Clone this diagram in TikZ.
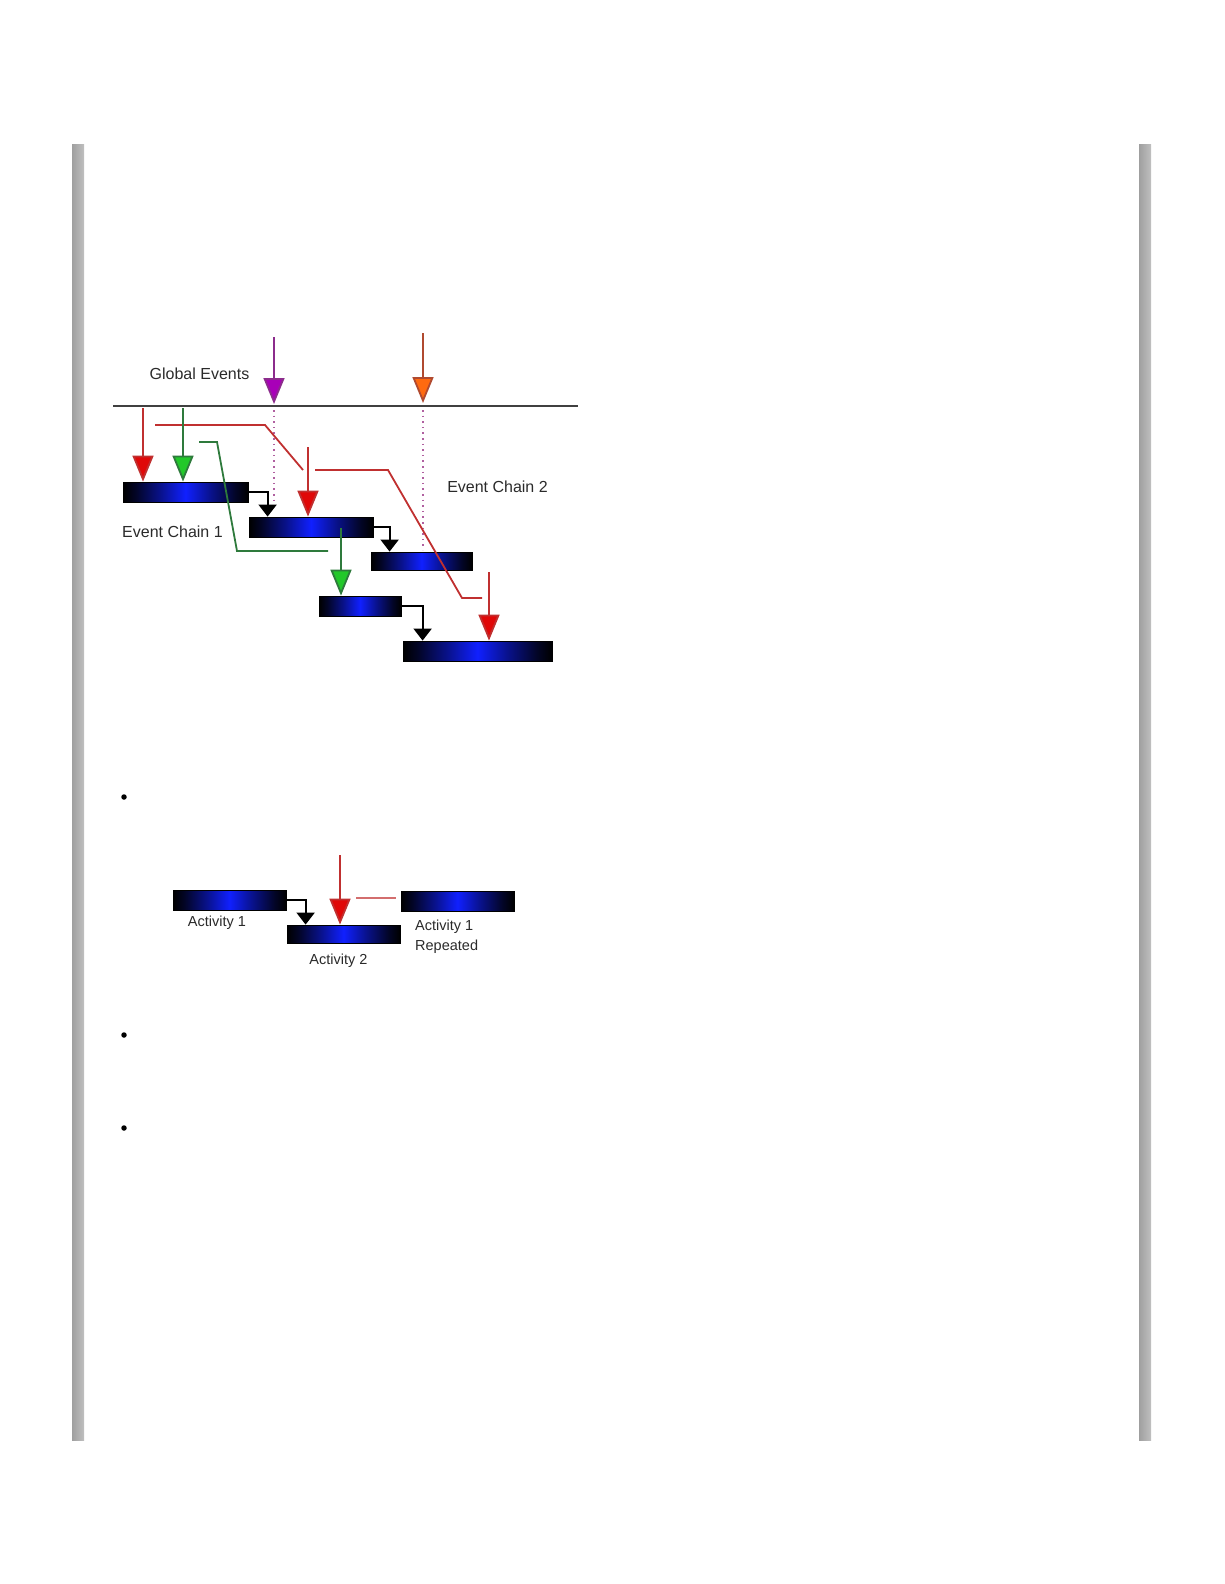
\documentclass[tikz,border=0pt]{standalone}
\usepackage{fontspec}
\setmainfont{Liberation Sans}
\usetikzlibrary{arrows.meta}
\definecolor{shaftred}{HTML}{C03030}
\definecolor{headred}{HTML}{E00808}
\definecolor{shaftgreen}{HTML}{2E7A3C}
\definecolor{headgreen}{HTML}{22C82A}
\definecolor{shaftpurple}{HTML}{8C2C8C}
\definecolor{headpurple}{HTML}{A800B8}
\definecolor{shaftorange}{HTML}{B04A30}
\definecolor{headorange}{HTML}{FF6A10}
\definecolor{dotcol}{HTML}{B060A0}
\definecolor{txt}{HTML}{2A2A2A}
\definecolor{barblue}{HTML}{1020FF}
\pgfdeclarehorizontalshading{barshade}{100bp}{
  color(0bp)=(black); color(25bp)=(black); color(30bp)=(black!85!barblue);
  color(40bp)=(barblue!55!black); color(50bp)=(barblue); color(60bp)=(barblue!55!black);
  color(70bp)=(black!85!barblue); color(75bp)=(black); color(100bp)=(black)}
\tikzset{
  bar/.style={draw=black, line width=0.8pt, inner sep=0pt, shading=barshade},
  evarrow/.style={line width=1.8pt, -{Triangle[width=21pt,length=26pt,fill=#1]}},
  conn/.style={draw=black, line width=1.8pt, -{Triangle[width=18pt,length=12pt,fill=black]}},
  chainline/.style={line width=1.8pt},
  dotline/.style={dotcol, line width=1.6pt, dash pattern=on 1.6pt off 4pt},
  lbl/.style={text=txt, font=\fontsize{16}{19}\selectfont, inner sep=0pt},
  slbl/.style={text=txt, font=\fontsize{14.5}{20}\selectfont, inner sep=0pt},
  grayrule/.style={left color=gray!75, right color=gray!50, draw=none},
  bulletdot/.style={circle, fill=black, inner sep=0pt, minimum size=5.5pt}
}
\begin{document}
\begin{tikzpicture}[x=1pt,y=-1pt]
\useasboundingbox (0,0) rectangle (1224,1584);
% page side rules
\shade[grayrule] (72,144) rectangle (84,1440);
\shade[grayrule] (1139,144) rectangle (1151,1440);
% bullets
\node[bulletdot] (bul1) at (124,797) {};
\node[bulletdot] (bul2) at (124,1035) {};
\node[bulletdot] (bul3) at (124,1128) {};

% ---------- upper diagram ----------
\coordinate (hl) at (113,406);
\coordinate (hr) at (578,406);
\draw[line width=2.2pt, draw=black!75] (hl) -- (hr);
\node[lbl] (ge) at (199.5,374) {Global Events};
\node[lbl] (ec1) at (172.5,532) {Event Chain 1};
\node[lbl] (ec2) at (497.5,487) {Event Chain 2};

\node[bar, minimum width=125pt, minimum height=20pt] (b1) at (185.5,492) {};
\node[bar, minimum width=124pt, minimum height=20pt] (b2) at (311,527) {};
\node[bar, minimum width=101pt, minimum height=18pt] (b3) at (421.5,561) {};
\node[bar, minimum width=82pt, minimum height=20pt] (b4) at (360,606) {};
\node[bar, minimum width=149pt, minimum height=20pt] (b5) at (477.5,651) {};

% dotted global-event lines
\coordinate (pd1) at (274,410);
\coordinate (pd2) at (274,502);
\coordinate (od1) at (423,410);
\coordinate (od2) at (423,550);
\draw[dotline] (pd1) -- (pd2);
\draw[dotline] (od1) -- (od2);

% global event arrows
\coordinate (ps) at (274,337);
\coordinate (pe) at (274,404);
\coordinate (os) at (423,333);
\coordinate (oe) at (423,403);
\draw[evarrow=headpurple, draw=shaftpurple] (ps) -- (pe);
\draw[evarrow=headorange, draw=shaftorange] (os) -- (oe);

% red chain
\coordinate (r1s) at (143,408);
\coordinate (r1a) at (155,425);
\coordinate (r1b) at (265,425);
\coordinate (r1c) at (303,470);
\coordinate (r2s) at (308,447);
\coordinate (r2a) at (315,470);
\coordinate (r2b) at (388,470);
\coordinate (r2c) at (462,598);
\coordinate (r2d) at (482,598);
\coordinate (r3s) at (489,572);
\draw[chainline, shaftred] (r1a) -- (r1b) -- (r1c);
\draw[chainline, shaftred] (r2a) -- (r2b) -- (r2c) -- (r2d);
\draw[evarrow=headred, draw=shaftred] (r1s) -- (r1s |- b1.north);
\draw[evarrow=headred, draw=shaftred] (r2s) -- (r2s |- b2.north);
\draw[evarrow=headred, draw=shaftred] (r3s) -- (r3s |- b5.north);

% green chain
\coordinate (g1s) at (183,408);
\coordinate (g1a) at (199,442);
\coordinate (g1b) at (217,442);
\coordinate (g1c) at (237,551);
\coordinate (g1d) at (328,551);
\coordinate (g2s) at (341,528);
\draw[chainline, shaftgreen] (g1a) -- (g1b) -- (g1c) -- (g1d);
\draw[evarrow=headgreen, draw=shaftgreen] (g1s) -- (g1s |- b1.north);
\draw[evarrow=headgreen, draw=shaftgreen] (g2s) -- (g2s |- b4.north);

% black dependency connectors
\draw[conn] (b1.east) -| ([xshift=19pt]b2.north west);
\draw[conn] (b2.east) -| ([xshift=19pt]b3.north west);
\draw[conn] (b4.east) -| ([xshift=20pt]b5.north west);

% ---------- lower diagram ----------
\node[bar, minimum width=113pt, minimum height=20pt] (a1) at (229.5,900) {};
\node[bar, minimum width=113pt, minimum height=18pt] (a2) at (343.5,934) {};
\node[bar, minimum width=113pt, minimum height=20pt] (a3) at (457.5,901) {};
\draw[conn] (a1.east) -| ([xshift=19pt]a2.north west);
\coordinate (ra) at (340,855);
\draw[evarrow=headred, draw=shaftred] (ra) -- (ra |- a2.north);
\coordinate (rl1) at (356,898);
\coordinate (rl2) at (396,898);
\draw[chainline, shaftred!70] (rl1) -- (rl2);
\node[slbl] (t1) at (217,923) {Activity 1};
\node[slbl] (t2) at (338.5,961) {Activity 2};
\node[slbl, align=left, anchor=west] (t3) at (415,937) {Activity 1\\Repeated};
\end{tikzpicture}
\end{document}
